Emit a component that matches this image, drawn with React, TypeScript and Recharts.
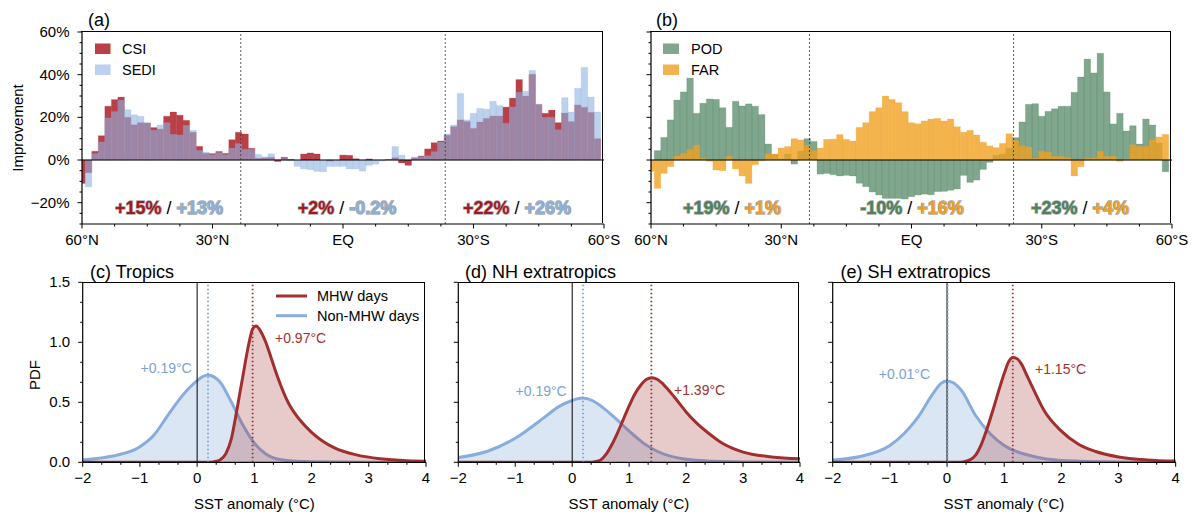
import React from "react";
import { BarChart, Bar, XAxis, YAxis, ReferenceLine, ComposedChart, Area } from "recharts";

const FONT = '"Liberation Sans", Arial, Helvetica, sans-serif';

// latitude bin centres (1.5 deg bins)
const latitudes = [
  60, 58.5, 57, 55.5, 54, 52.5, 51, 49.5, 48, 46.5, 45, 43.5, 42, 40.5, 39, 37.5, 36, 34.5, 33, 31.5,
  30, 28.5, 27, 25.5, 24, 22.5, 21, 19.5, 18, 16.5, 15, 13.5, 12, 10.5, 9, 7.5, 6, 4.5, 3, 1.5,
  0, -1.5, -3, -4.5, -6, -7.5, -9, -10.5, -12, -13.5, -15, -16.5, -18, -19.5, -21, -22.5, -24, -25.5, -27, -28.5,
  -30, -31.5, -33, -34.5, -36, -37.5, -39, -40.5, -42, -43.5, -45, -46.5, -48, -49.5, -51, -52.5, -54, -55.5, -57, -58.5,
];

const csi = [
  -11, -6, 4.1, 11.4, 25.2, 28.3, 29.5, 20, 16.5, 17.5,
  17.3, 15.2, 14.5, 20.5, 22.5, 21, 18.6, 13, 6.4, 3.1,
  3, 4, 3.1, 9.5, 13, 12.2, 5.5, 0.8, 1, 1.2,
  -0.7, 1.3, 0.3, 0, 2.8, 3.3, 2.8, 0, -0.5, 0,
  2.3, 2.2, 0.6, 0, 0.5, 0, 0, 0.2, 1.1, -1.4,
  -2.5, 1, 1.9, 5.2, 8.1, 8.9, 11.6, 15.6, 18.8, 18,
  14.8, 17.8, 19.5, 20.6, 20.6, 24.8, 29, 37.7, 30, 40.2,
  26, 21.9, 23.4, 17.5, 22, 18, 25.8, 24.7, 22.3, 10,
];

const sedi = [
  0, -12.6, 3, 8.4, 19.7, 22.7, 28, 23.6, 21.2, 20.5,
  17.5, 14, 16.4, 17.5, 12, 11.7, 16.2, 13.9, 4.5, 3.7,
  2.5, 3.5, 2.5, 5.5, 7.7, 5, 5, 2.6, 1.5, 2.9,
  0.3, 0.8, -0.3, -3, -4.2, -4.5, -5.3, -5.5, -3, -3,
  -3, -4.2, -4.2, -5.2, -2.5, -1.9, -0.5, 0, 6.3, 2.3,
  0, 1.4, 1.6, 2, 3.9, 8.4, 12.2, 16.4, 31.2, 18.8,
  21.9, 24.2, 23.8, 27.5, 25.5, 17.2, 24.8, 31.7, 32.2, 42,
  26.2, 20, 20, 14.2, 29.2, 22.5, 33.6, 43.4, 29.5, 22.5,
];

const pod = [
  0, 4.4, 10.6, 18.8, 28.1, 31.9, 38.4, 21.9, 26.6, 28.6,
  28.4, 24.5, 15.3, 27.5, 25.3, 26.3, 25.2, 21.3, 7.5, 2.5,
  0.5, 2.8, -1.9, 4.2, 10, 8.7, -6.6, -6.3, -6.9, -7.5,
  -7.2, -7.5, -10.9, -12.5, -15, -16.4, -18, -18, -18, -18.3,
  -17.2, -16.4, -16, -16.3, -14.8, -14.7, -14.2, -13.6, -7.2, -10.5,
  -9.4, -4.4, -1.1, 2.2, 2.8, 5.5, 10.5, 17.8, 26.1, 26.4,
  20.5, 22.8, 24, 25.2, 25.2, 31.7, 38.9, 47.3, 40.8, 50,
  31.9, 16.9, 21.9, 13.6, 16.1, 7.5, 19.2, 16.4, 8, -5.5,
];

const far = [
  -5.3, -13.3, -6.3, -3.1, 1.9, 3.1, 5, 7, 0.8, -0.6,
  -4.7, -5, 1.7, -4.2, -7.5, -11, -2.2, -0.3, 2.8, 2.8,
  5.6, 6.3, 10, 9.4, 7, 4.4, 5.6, 9.7, 9.8, 11.9,
  9.7, 8.9, 15.3, 17.5, 22.7, 24.5, 30, 28.4, 26.9, 22.7,
  17.5, 17, 18.3, 19.2, 19.5, 18.3, 19.2, 15.6, 13, 13.9,
  11.7, 8.3, 6.6, 5.8, 7.8, 12.3, 9.2, 6.7, 6.1, 0.8,
  4.2, 3.6, 1.7, 1.7, 1.1, -7.5, -3.1, 0.8, 0.9, 4.2,
  1.7, 1.7, -0.6, 0.5, 7.2, 6.4, 6.4, 9.5, 10.8, 12,
];

// axis ticks
const latTicks = [60, 52.5, 45, 37.5, 30, 22.5, 15, 7.5, 0, -7.5, -15, -22.5, -30, -37.5, -45, -52.5, -60];
const latMajor = [60, 30, 0, -30, -60];
const latLabels = ["60°N", "30°N", "EQ", "30°S", "60°S"];
const pctTicks = [-30, -25, -20, -15, -10, -5, 0, 5, 10, 15, 20, 25, 30, 35, 40, 45, 50, 55, 60];
const pctMajor = [-20, 0, 20, 40, 60];
const pctLabels = ["\u221220%", "0%", "20%", "40%", "60%"];
const tropicLats = [23.5, -23.5];

const sstTicks = [-2, -5 / 3, -4 / 3, -1, -2 / 3, -1 / 3, 0, 1 / 3, 2 / 3, 1, 4 / 3, 5 / 3, 2, 7 / 3, 8 / 3, 3, 10 / 3, 11 / 3, 4];
const sstMajor = [-2, -1, 0, 1, 2, 3, 4];
const sstLabels = ["\u22122", "\u22121", "0", "1", "2", "3", "4"];
const pdfTicks = [0, 1 / 6, 2 / 6, 0.5, 4 / 6, 5 / 6, 1, 7 / 6, 8 / 6, 1.5];
const pdfMajor = [0, 0.5, 1, 1.5];
const pdfLabels = ["0.0", "0.5", "1.0", "1.5"];

// PDF curves: [SST anomaly, density]
const tropicsNonMhw = [[-2, 0.02], [-1.5, 0.05], [-1, 0.13], [-0.75, 0.23], [-0.5, 0.4], [-0.25, 0.56], [0, 0.68], [0.1, 0.715], [0.19, 0.728], [0.3, 0.71], [0.4, 0.67], [0.6, 0.5], [0.8, 0.31], [1, 0.16], [1.2, 0.07], [1.5, 0.02], [2, 0.005], [3, 0.001], [4, 0]];
const tropicsMhw = [[-2, 0], [0.2, 0], [0.3, 0.005], [0.4, 0.02], [0.5, 0.07], [0.6, 0.2], [0.7, 0.45], [0.8, 0.72], [0.9, 0.98], [0.97, 1.11], [1.03, 1.135], [1.1, 1.1], [1.2, 1.0], [1.3, 0.86], [1.4, 0.72], [1.6, 0.49], [1.8, 0.35], [2, 0.25], [2.4, 0.12], [2.8, 0.06], [3.2, 0.03], [4, 0.008]];
const nhNonMhw = [[-2, 0.04], [-1.5, 0.09], [-1, 0.2], [-0.5, 0.37], [-0.25, 0.46], [0, 0.515], [0.18, 0.535], [0.35, 0.515], [0.5, 0.47], [0.75, 0.37], [1, 0.26], [1.25, 0.16], [1.5, 0.09], [2, 0.025], [2.5, 0.008], [3, 0.003], [4, 0.001]];
const nhMhw = [[-2, 0], [0.3, 0], [0.4, 0.005], [0.5, 0.02], [0.6, 0.07], [0.7, 0.15], [0.8, 0.25], [0.9, 0.36], [1, 0.47], [1.1, 0.57], [1.2, 0.64], [1.3, 0.69], [1.4, 0.705], [1.5, 0.69], [1.6, 0.65], [1.8, 0.54], [2, 0.42], [2.2, 0.32], [2.4, 0.24], [2.6, 0.17], [2.8, 0.12], [3, 0.085], [3.5, 0.045], [4, 0.03]];
const shNonMhw = [[-2, 0.02], [-1.5, 0.05], [-1, 0.14], [-0.75, 0.24], [-0.5, 0.38], [-0.25, 0.57], [-0.1, 0.66], [0, 0.678], [0.1, 0.665], [0.25, 0.6], [0.5, 0.39], [0.75, 0.24], [1, 0.14], [1.5, 0.05], [2, 0.015], [3, 0.002], [4, 0]];
const shMhw = [[-2, 0], [0.2, 0], [0.3, 0.005], [0.4, 0.02], [0.5, 0.06], [0.6, 0.15], [0.7, 0.28], [0.8, 0.43], [0.9, 0.59], [1, 0.74], [1.08, 0.84], [1.15, 0.873], [1.22, 0.865], [1.3, 0.82], [1.4, 0.72], [1.5, 0.62], [1.7, 0.43], [2, 0.26], [2.3, 0.15], [2.6, 0.09], [3, 0.045], [3.5, 0.02], [4, 0.01]];

const tropicsMeans = [0.19, 0.97];
const nhMeans = [0.19, 1.39];
const shMeans = [0.01, 1.15];

// colours
const CSI_C = "#ad1f27";
const SEDI_C = "#8db3e2";
const POD_C = "#3c7850";
const FAR_C = "#f0a020";
const BLUE = "#88acdc";
const RED = "#a03030";
const SPINE = { stroke: "#000", strokeWidth: 1.2 };

// panel layout: chart box and margins
const layoutA = { left: 0, top: 0, width: 620, height: 260, margin: { top: 32, right: 16, bottom: 6, left: 42 }, yWidth: 40, xHeight: 30 };
const layoutB = { left: 620, top: 0, width: 580, height: 260, margin: { top: 32, right: 28, bottom: 6, left: 11 }, yWidth: 20, xHeight: 30 };
const layoutC = { left: 0, top: 265, width: 440, height: 257, margin: { top: 17.3, right: 14, bottom: 19.7, left: 42.7 }, yWidth: 40, xHeight: 40 };
const layoutD = { left: 440, top: 265, width: 380, height: 257, margin: { top: 17.3, right: 20, bottom: 19.7, left: 8.3 }, yWidth: 10, xHeight: 40 };
const layoutE = { left: 820, top: 265, width: 380, height: 257, margin: { top: 17.3, right: 24.3, bottom: 19.7, left: 2.7 }, yWidth: 10, xHeight: 40 };
const layouts = [layoutA, layoutB, layoutC, layoutD, layoutE];

const skillRows = latitudes.map((lat, i) => ({ lat, csi: csi[i], sedi: sedi[i], pod: pod[i], far: far[i] }));
const toPoints = (pairs: number[][]) => pairs.map(([x, y]) => ({ x, y }));

const majorIndex = (v: number, majors: number[]) => majors.findIndex((m) => Math.abs(m - v) < 1e-6);

const BottomTick = (props: any) => {
  const { x, y, payload, majors, labels } = props;
  const i = majorIndex(payload.value, majors);
  const len = i >= 0 ? 4.5 : 2.5;
  return (
    <g>
      <line x1={x} x2={x} y1={y} y2={y + len} stroke="#000" strokeWidth={1} />
      {i >= 0 && labels ? (
        <text x={x} y={y + 21} textAnchor="middle" fontSize={15} fill="#000">
          {labels[i]}
        </text>
      ) : null}
    </g>
  );
};

const LeftTick = (props: any) => {
  const { x, y, payload, majors, labels } = props;
  const i = majorIndex(payload.value, majors);
  const len = i >= 0 ? 4.5 : 2.5;
  return (
    <g>
      <line x1={x - len} x2={x} y1={y} y2={y} stroke="#000" strokeWidth={1} />
      {i >= 0 && labels ? (
        <text x={x - 12.5} y={y + 5} textAnchor="end" fontSize={15} fill="#000">
          {labels[i]}
        </text>
      ) : null}
    </g>
  );
};

const SkillPanel = ({ layout, firstKey, firstColor, firstOpacity, secondKey, secondColor, secondOpacity, showYLabels }: any) => (
  <div style={{ position: "absolute", left: layout.left, top: layout.top }}>
    <BarChart width={layout.width} height={layout.height} data={skillRows} margin={layout.margin}>
      <XAxis
        xAxisId="main" dataKey="lat" type="number" domain={[-60, 60]} reversed allowDataOverflow
        ticks={latTicks} interval={0} tickSize={0} tickMargin={0} tickLine={false} height={layout.xHeight}
        axisLine={SPINE}
        tick={(p: any) => <BottomTick {...p} majors={latMajor} labels={latLabels} />}
      />
      <XAxis xAxisId="alt" orientation="top" height={0} dataKey="lat" type="number" domain={[-60, 60]} reversed allowDataOverflow hide />
      <YAxis
        type="number" domain={[-30, 60]} allowDataOverflow ticks={pctTicks} interval={0}
        tickSize={0} tickMargin={0} tickLine={false} width={layout.yWidth}
        axisLine={SPINE}
        tick={(p: any) => <LeftTick {...p} majors={pctMajor} labels={showYLabels ? pctLabels : null} />}
      />
      <Bar xAxisId="main" dataKey={firstKey} fill={firstColor} fillOpacity={firstOpacity} stroke={firstColor} strokeOpacity={0.35} strokeWidth={0.6} barSize={6.5} isAnimationActive={false} />
      <Bar xAxisId="alt" dataKey={secondKey} fill={secondColor} fillOpacity={secondOpacity} stroke={secondColor} strokeOpacity={0.35} strokeWidth={0.6} barSize={6.5} isAnimationActive={false} />
      <ReferenceLine xAxisId="main" y={0} stroke="#000" strokeWidth={1} />
      {tropicLats.map((t) => (
        <ReferenceLine key={t} xAxisId="main" x={t} stroke="#333" strokeDasharray="2 2" strokeWidth={0.8} />
      ))}
    </BarChart>
  </div>
);

const PdfPanel = ({ layout, nonMhw, mhw, means, showYLabels }: any) => (
  <div style={{ position: "absolute", left: layout.left, top: layout.top }}>
    <ComposedChart width={layout.width} height={layout.height} margin={layout.margin}>
      <XAxis
        dataKey="x" type="number" domain={[-2, 4]} allowDataOverflow ticks={sstTicks} interval={0}
        tickSize={0} tickMargin={0} tickLine={false} height={layout.xHeight}
        axisLine={SPINE}
        tick={(p: any) => <BottomTick {...p} majors={sstMajor} labels={sstLabels} />}
      />
      <YAxis
        type="number" domain={[0, 1.5]} allowDataOverflow ticks={pdfTicks} interval={0}
        tickSize={0} tickMargin={0} tickLine={false} width={layout.yWidth}
        axisLine={SPINE}
        tick={(p: any) => <LeftTick {...p} majors={pdfMajor} labels={showYLabels ? pdfLabels : null} />}
      />
      <Area data={toPoints(nonMhw)} dataKey="y" type="monotone" stroke={BLUE} strokeWidth={3} fill={BLUE} fillOpacity={0.3} dot={false} activeDot={false} isAnimationActive={false} />
      <Area data={toPoints(mhw)} dataKey="y" type="monotone" stroke={RED} strokeWidth={3} fill={RED} fillOpacity={0.25} dot={false} activeDot={false} isAnimationActive={false} />
      <ReferenceLine x={0} stroke="#000" strokeWidth={1} />
      <ReferenceLine x={means[0]} stroke="#7aa2d8" strokeDasharray="1.5 2.5" strokeWidth={1.8} />
      <ReferenceLine x={means[1]} stroke={RED} strokeDasharray="1.5 2.5" strokeWidth={1.8} />
    </ComposedChart>
  </div>
);

// top and right spines, drawn as plain HTML borders over each plot area
const Frames = () => (
  <>
    {layouts.map((l, i) => {
      const x = l.left + l.margin.left + l.yWidth;
      const y = l.top + l.margin.top;
      const w = l.width - l.margin.left - l.margin.right - l.yWidth;
      const h = l.height - l.margin.top - l.margin.bottom - l.xHeight;
      return (
        <div
          key={i}
          style={{
            position: "absolute", left: x - 0.6, top: y - 0.6, width: w, height: h,
            borderTop: "1.2px solid #000", borderRight: "1.2px solid #000", pointerEvents: "none", boxSizing: "border-box",
          }}
        />
      );
    })}
  </>
);

const outline = { stroke: "#6a6a6a", strokeWidth: 1.4, strokeOpacity: 0.6, paintOrder: "stroke" } as any;

const Score = ({ x, a, b, ca, cb }: any) => (
  <text x={x} y={213.5} textAnchor="middle" fontSize={18}>
    <tspan fontWeight="bold" fill={ca} style={outline}>{a}</tspan>
    <tspan fill="#000"> / </tspan>
    <tspan fontWeight="bold" fill={cb} style={outline}>{b}</tspan>
  </text>
);

const Overlay = () => (
  <svg width={1200} height={522} style={{ position: "absolute", left: 0, top: 0, pointerEvents: "none" }}>
    <text x={88} y={26} fontSize={18}>(a)</text>
    <text x={656} y={26} fontSize={18}>(b)</text>
    <text x={23} y={128} fontSize={15} textAnchor="middle" transform="rotate(-90 23 128)">Improvement</text>

    <rect x={95} y={43.5} width={15.5} height={10.5} fill={CSI_C} fillOpacity={0.85} />
    <text x={122} y={54.3} fontSize={14.5}>CSI</text>
    <rect x={95} y={64.5} width={15.5} height={10.5} fill={SEDI_C} fillOpacity={0.6} />
    <text x={122} y={75.3} fontSize={14.5}>SEDI</text>

    <rect x={663} y={43.5} width={16} height={10.5} fill={POD_C} fillOpacity={0.65} />
    <text x={691} y={54.3} fontSize={14.5}>POD</text>
    <rect x={663} y={64.5} width={16} height={10.5} fill={FAR_C} fillOpacity={0.8} />
    <text x={691} y={75.3} fontSize={14.5}>FAR</text>

    <Score x={169} a="+15%" b="+13%" ca="#a3171f" cb="#8cb0dc" />
    <Score x={347} a="+2%" b="-0.2%" ca="#a3171f" cb="#8cb0dc" />
    <Score x={517} a="+22%" b="+26%" ca="#a3171f" cb="#8cb0dc" />
    <Score x={732} a="+19%" b="+1%" ca="#4b8259" cb="#f0a020" />
    <Score x={912} a="-10%" b="+16%" ca="#4b8259" cb="#f0a020" />
    <Score x={1080} a="+23%" b="+4%" ca="#4b8259" cb="#f0a020" />

    <text x={90} y={278} fontSize={18}>(c) Tropics</text>
    <text x={465} y={278} fontSize={18}>(d) NH extratropics</text>
    <text x={840.5} y={278} fontSize={18}>(e) SH extratropics</text>
    <text x={40} y={375} fontSize={15} textAnchor="middle" transform="rotate(-90 40 375)">PDF</text>
    <text x={254.4} y={509} fontSize={15} textAnchor="middle">SST anomaly (°C)</text>
    <text x={629} y={509} fontSize={15} textAnchor="middle">SST anomaly (°C)</text>
    <text x={1004} y={509} fontSize={15} textAnchor="middle">SST anomaly (°C)</text>

    <line x1={276} x2={307} y1={296} y2={296} stroke={RED} strokeWidth={3} />
    <text x={317} y={301} fontSize={14.5}>MHW days</text>
    <line x1={276} x2={307} y1={315.7} y2={315.7} stroke={BLUE} strokeWidth={3} />
    <text x={317} y={320.7} fontSize={14.5}>Non-MHW days</text>

    <text x={191.7} y={373} fontSize={14} textAnchor="end" fill="#7aa2d8">+0.19°C</text>
    <text x={275} y={342.7} fontSize={14} fill={RED}>+0.97°C</text>
    <text x={566.7} y={396} fontSize={14} textAnchor="end" fill="#7aa2d8">+0.19°C</text>
    <text x={674} y={395} fontSize={14} fill={RED}>+1.39°C</text>
    <text x={930} y={379.3} fontSize={14} textAnchor="end" fill="#7aa2d8">+0.01°C</text>
    <text x={1035} y={374.3} fontSize={14} fill={RED}>+1.15°C</text>
  </svg>
);

export default function App() {
  return (
    <div style={{ position: "absolute", left: 0, top: 0, width: 1200, height: 522, background: "#fff", fontFamily: FONT, overflow: "hidden" }}>
      <SkillPanel layout={layoutA} firstKey="csi" firstColor={CSI_C} firstOpacity={0.85} secondKey="sedi" secondColor={SEDI_C} secondOpacity={0.6} showYLabels />
      <SkillPanel layout={layoutB} firstKey="pod" firstColor={POD_C} firstOpacity={0.65} secondKey="far" secondColor={FAR_C} secondOpacity={0.8} showYLabels={false} />
      <PdfPanel layout={layoutC} nonMhw={tropicsNonMhw} mhw={tropicsMhw} means={tropicsMeans} showYLabels />
      <PdfPanel layout={layoutD} nonMhw={nhNonMhw} mhw={nhMhw} means={nhMeans} showYLabels={false} />
      <PdfPanel layout={layoutE} nonMhw={shNonMhw} mhw={shMhw} means={shMeans} showYLabels={false} />
      <Frames />
      <Overlay />
    </div>
  );
}
